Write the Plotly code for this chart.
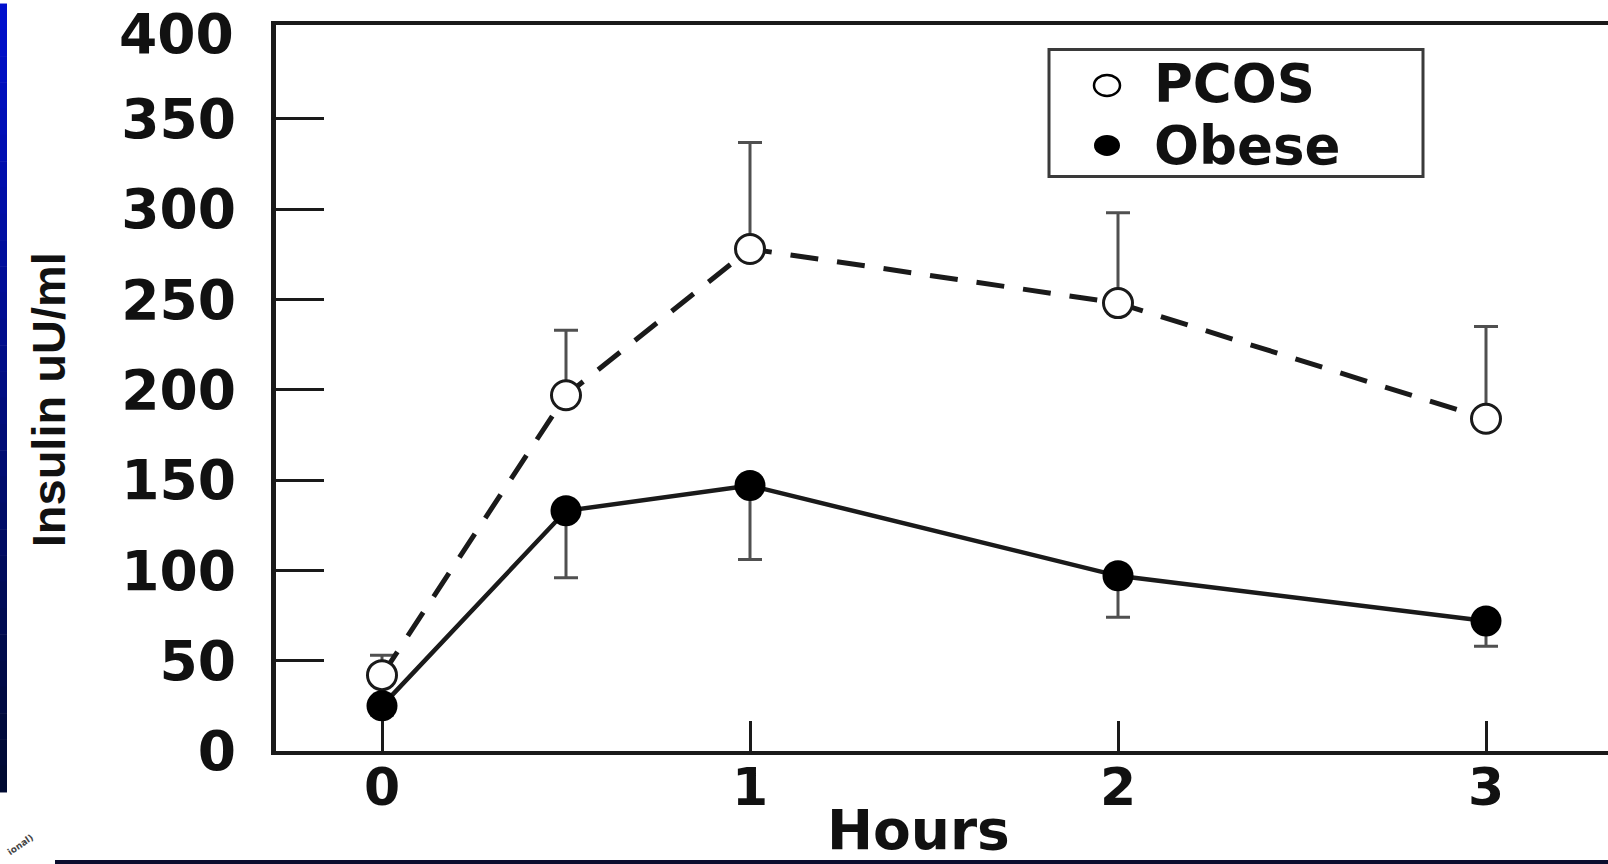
import plotly.graph_objects as go

# ---------------- data ----------------
hours = [0, 0.5, 1, 2, 3]
pcos_insulin = [42, 197, 278, 248, 184]
pcos_sem = [11, 36, 59, 50, 51]
obese_insulin = [25, 133, 147, 97, 72]
obese_sem = [5, 37, 41, 23, 14]
x_ticks = [0, 1, 2, 3]
y_ticks = [0, 50, 100, 150, 200, 250, 300, 350]
y_top_label = 400
series_names = ["PCOS", "Obese"]
x_title = "Hours"
y_title = "Insulin uU/ml"

# ---------------- geometry helpers ----------------
W, H = 1608, 864
L, R, T, B = 276, 0, 24.5, 113
PW = W - L - R
PH = H - T - B


def px_x(p):
    return (p - L) / PW


def px_y(p):
    return (H - B - p) / PH


INK = "#1a1a1a"
ERR = "#505050"
BOLD = dict(family="DejaVu Sans, Liberation Sans, Arial, sans-serif", weight="bold", color="#111")
NARROW = dict(family="Liberation Sans, Arial, sans-serif", weight="bold", color="#111")

fig = go.Figure()

fig.add_trace(go.Scatter(
    x=hours, y=pcos_insulin, name=series_names[0], mode="lines+markers",
    line=dict(color=INK, width=5, dash="28px,19px"),
    marker=dict(symbol="circle", size=29, color="white", line=dict(color=INK, width=3)),
    error_y=dict(type="data", symmetric=False, array=pcos_sem, arrayminus=[0] * len(pcos_sem),
                 color=ERR, thickness=3, width=12),
    showlegend=False,
))

fig.add_trace(go.Scatter(
    x=hours, y=obese_insulin, name=series_names[1], mode="lines+markers",
    line=dict(color=INK, width=4.5),
    marker=dict(symbol="circle", size=31, color="#000", line=dict(color="#000", width=0)),
    error_y=dict(type="data", symmetric=False, array=[0] * len(obese_sem), arrayminus=obese_sem,
                 color=ERR, thickness=3, width=12),
    showlegend=False,
))

shapes = []
# slide decoration: left blue gradient strip
n = 30
top, bot = 3, 792
for i in range(n):
    f = i / (n - 1)
    g = int(16 + (10 - 16) * f)
    b = int(205 + (50 - 205) * f)
    y0 = top + (bot - top) * i / n
    y1 = top + (bot - top) * (i + 1) / n + 0.5
    shapes.append(dict(type="rect", xref="paper", yref="paper",
                       x0=px_x(0), x1=px_x(7), y0=px_y(y1), y1=px_y(y0),
                       fillcolor=f"rgb(0,{g},{b})", line=dict(width=0), layer="above"))
# slide decoration: bottom dark strip
shapes.append(dict(type="rect", xref="paper", yref="paper",
                   x0=px_x(55), x1=px_x(W + 2), y0=px_y(H + 2), y1=px_y(860),
                   fillcolor="#0b0d2e", line=dict(width=0), layer="above"))

# custom legend box
lx0, lx1, ly0, ly1 = 1049, 1423, 49, 176
shapes.append(dict(type="rect", xref="paper", yref="paper",
                   x0=px_x(lx0), x1=px_x(lx1), y0=px_y(ly1), y1=px_y(ly0),
                   fillcolor="white", line=dict(color="#3a3a3a", width=3)))
mk_x = 1107
for cy, filled in [(85, False), (145, True)]:
    shapes.append(dict(type="circle", xref="paper", yref="paper",
                       xsizemode="pixel", ysizemode="pixel",
                       xanchor=px_x(mk_x), yanchor=px_y(cy),
                       x0=-13, x1=13, y0=-10.5, y1=10.5,
                       fillcolor="#000" if filled else "white",
                       line=dict(color="#000", width=0 if filled else 2.5)))

annotations = []
for name, cy in zip(series_names, [83, 145]):
    annotations.append(dict(text=name, xref="paper", yref="paper",
                            x=px_x(1152), y=px_y(cy), xanchor="left", yanchor="middle",
                            showarrow=False, font=dict(BOLD, size=53)))

# top tick label (no tick mark is drawn at 400, it sits under the frame line)
annotations.append(dict(text=str(y_top_label), xref="paper", yref="y",
                        x=px_x(236), y=y_top_label, xanchor="right", yanchor="middle",
                        yshift=-5, showarrow=False, font=dict(BOLD, size=55)))

# axis titles
annotations.append(dict(text=x_title, xref="paper", yref="paper",
                        x=px_x(918), y=px_y(830), xanchor="center", yanchor="middle",
                        showarrow=False, font=dict(BOLD, size=55)))
annotations.append(dict(text=y_title, xref="paper", yref="paper",
                        x=px_x(48), y=px_y(400), xanchor="center", yanchor="middle",
                        textangle=-90, showarrow=False, font=dict(NARROW, size=47)))
# fragment of logo text in bottom-left corner
annotations.append(dict(text="ional)", xref="paper", yref="paper",
                        x=px_x(20), y=px_y(845), xanchor="center", yanchor="middle",
                        textangle=-35, showarrow=False,
                        font=dict(family="DejaVu Sans", size=9, weight="bold", color="#444")))

x_min = (L - 382) / 368
x_max = (W - R - 382) / 368

fig.update_layout(
    width=W, height=H,
    margin=dict(l=L, r=R, t=T, b=B, pad=0),
    paper_bgcolor="white", plot_bgcolor="white",
    shapes=shapes, annotations=annotations,
    showlegend=False,
    xaxis=dict(range=[x_min, x_max], tickvals=x_ticks, ticktext=[str(v) for v in x_ticks],
               ticks="inside", ticklen=30, tickwidth=3, tickcolor=INK,
               showline=True, linewidth=4, linecolor=INK, mirror=True,
               showgrid=False, zeroline=False, automargin=False,
               tickfont=dict(BOLD, size=52), ticklabelstandoff=-12),
    yaxis=dict(range=[0, 402], tickvals=y_ticks, ticktext=[str(v) for v in y_ticks],
               ticks="inside", ticklen=48, tickwidth=3, tickcolor=INK,
               showline=True, linewidth=5, linecolor=INK, mirror=False,
               showgrid=False, zeroline=False, automargin=False,
               ticklabeloverflow="allow",
               tickfont=dict(BOLD, size=55), ticklabelstandoff=24),
)

fig.write_html("out.html", config={"displayModeBar": False},
               post_script="document.body.style.margin='0';")
